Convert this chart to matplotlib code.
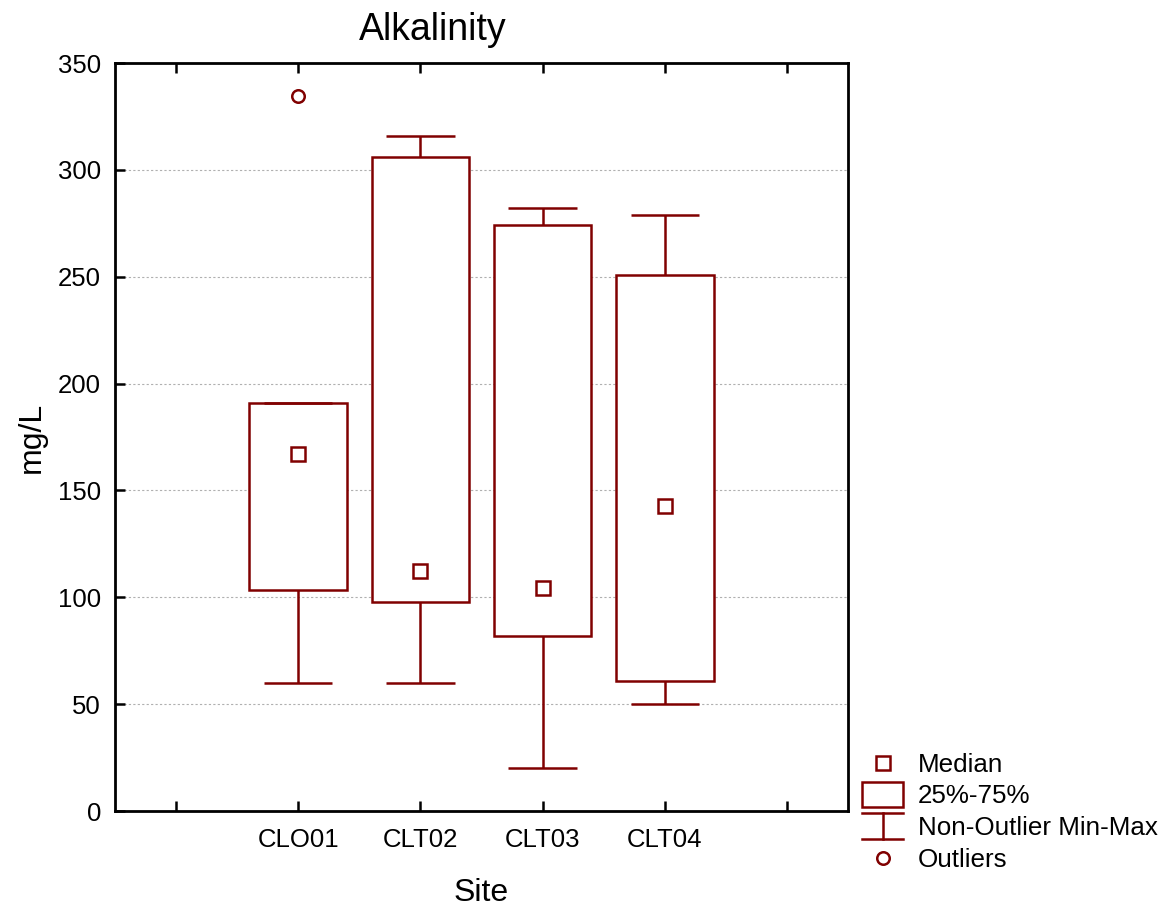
import matplotlib
matplotlib.use("Agg")
import matplotlib.pyplot as plt
from matplotlib.legend_handler import HandlerBase
from matplotlib.patches import Rectangle
from matplotlib.lines import Line2D

plt.rcParams['font.family'] = ['Liberation Sans', 'DejaVu Sans']

sites = ['CLO01', 'CLT02', 'CLT03', 'CLT04']
medians = [167, 112.5, 104.5, 142.5]
q1 = [103.5, 98, 82, 61]
q3 = [191, 306, 274, 251]
mins = [60, 60, 20, 50]
maxs = [191, 316, 282, 279]
outliers = {'CLO01': [334.5]}

col = '#800000'
lw = 1.8
pos = [1, 2, 3, 4]


class BoxHandler(HandlerBase):
    def create_artists(self, legend, orig, xd, yd, w, h, fontsize, trans):
        r = Rectangle((xd, yd - 0.2 * h), w, h * 1.4, facecolor='white',
                      edgecolor=col, lw=lw, transform=trans)
        return [r]


class WhiskerHandler(HandlerBase):
    def create_artists(self, legend, orig, xd, yd, w, h, fontsize, trans):
        y0, y1 = yd - 0.2 * h, yd + 1.2 * h
        top = Line2D([xd, xd + w], [y1, y1], color=col, lw=lw, transform=trans)
        bot = Line2D([xd, xd + w], [y0, y0], color=col, lw=lw, transform=trans)
        mid = Line2D([xd + w / 2, xd + w / 2], [y0, y1], color=col, lw=lw, transform=trans)
        return [top, bot, mid]


fig = plt.figure(figsize=(11.64, 9.07), dpi=100)
ax = fig.add_axes([0.0988, 0.1058, 0.6297, 0.8247])

ax.yaxis.grid(True, linestyle=(0, (2, 2)), color='#b0b0b0', lw=0.8, zorder=0)
ax.set_axisbelow(True)

# boxes, whiskers and caps
ax.bar(pos, [b - a for a, b in zip(q1, q3)], bottom=q1, width=0.8,
       facecolor='white', edgecolor=col, lw=lw, zorder=2)
ax.vlines(pos, q3, maxs, color=col, lw=lw, zorder=3)
ax.vlines(pos, mins, q1, color=col, lw=lw, zorder=3)
ax.hlines(maxs, [p - 0.28 for p in pos], [p + 0.28 for p in pos], color=col, lw=lw, zorder=3)
ax.hlines(mins, [p - 0.28 for p in pos], [p + 0.28 for p in pos], color=col, lw=lw, zorder=3)
ax.plot(pos, medians, 's', ms=10, mfc='white', mec=col, mew=lw, zorder=4)
for i, s in enumerate(sites):
    if s in outliers:
        ax.plot([pos[i]] * len(outliers[s]), outliers[s], 'o', ms=9,
                mfc='white', mec=col, mew=lw, zorder=4)

ax.set_xlim(-0.5, 5.5)
ax.set_ylim(0, 350)
ax.set_xticks(range(6))
ax.set_xticklabels([''] + sites + [''])
ax.set_yticks(range(0, 351, 50))
ax.tick_params(direction='in', length=7, width=1.8, labelsize=18.5, top=True)
ax.tick_params(axis='x', pad=12)
ax.tick_params(axis='y', pad=10)
for sp in ax.spines.values():
    sp.set_linewidth(2)

fig.text(433 / 1164, 1 - 30 / 907, 'Alkalinity', fontsize=27, ha='center', va='center')
ax.set_xlabel('Site', fontsize=23, labelpad=19)
ax.set_ylabel('mg/L', fontsize=23, labelpad=8)

h_med = Line2D([], [], ls='', marker='s', ms=10, mfc='white', mec=col, mew=lw)
h_box = Rectangle((0, 0), 1, 1)
h_wh = Line2D([], [])
h_out = Line2D([], [], ls='', marker='o', ms=9, mfc='white', mec=col, mew=lw)
fig.legend([h_med, h_box, h_wh, h_out],
           ['Median', '25%-75%', 'Non-Outlier Min-Max', 'Outliers'],
           handler_map={h_box: BoxHandler(), h_wh: WhiskerHandler()},
           loc='lower left', bbox_to_anchor=(862 / 1164, 1 - 872 / 907),
           borderpad=0, borderaxespad=0, frameon=False,
           fontsize=18.7, handlelength=1.58, handletextpad=0.58, labelspacing=0.3)

fig.savefig('out.png', dpi=100)
